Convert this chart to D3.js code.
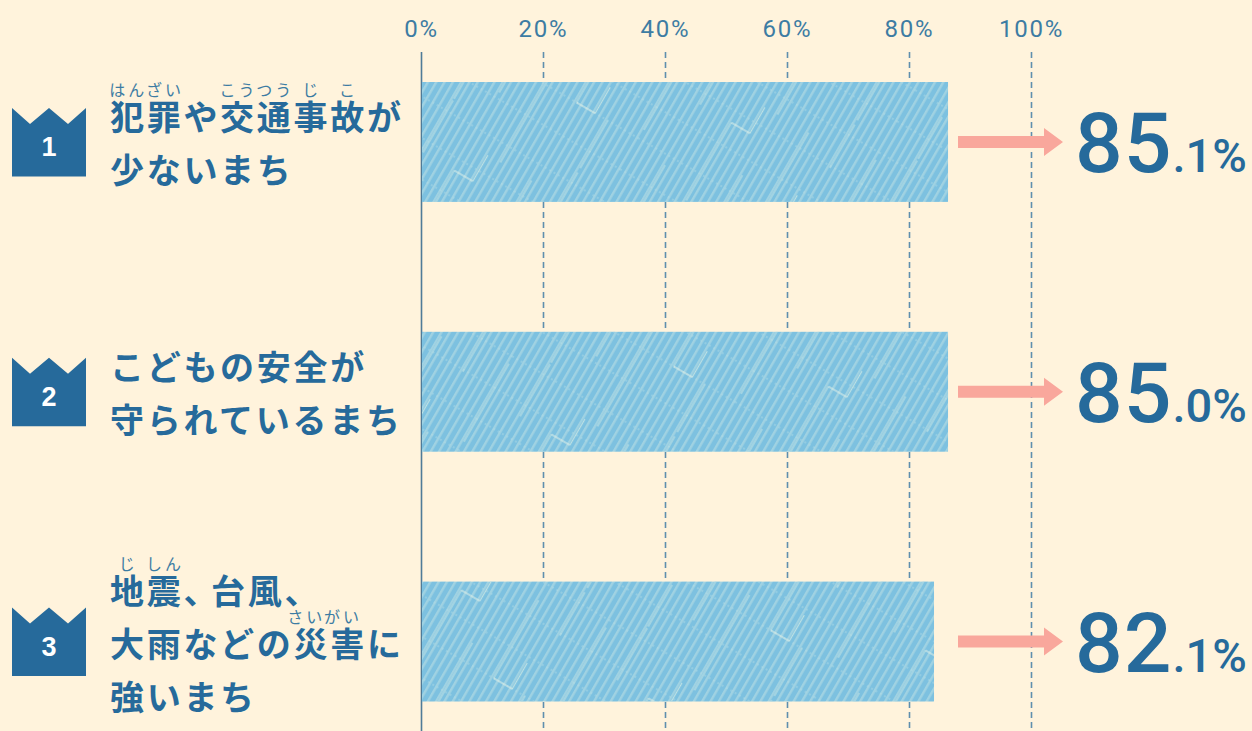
<!DOCTYPE html>
<html>
<head>
<meta charset="utf-8">
<script src="https://cdn.jsdelivr.net/npm/d3@7"></script>
<style>
  html, body { margin: 0; padding: 0; background: #fff3dc; overflow: hidden; }
  svg { display: block; }
  text { font-family: "Noto Sans CJK JP", sans-serif; }
</style>
</head>
<body>
<div id="chart"></div>
<script>
// data
const ranks = ["1", "2", "3"];
const barValues = [86.4, 86.4, 84.1]; // bar ends against the axis
const valueMajor = ["85", "85", "82"];
const valueMinor = [".1%", ".0%", ".1%"];
const axisTicks = [0, 20, 40, 60, 80, 100];
const labelLines = [
  ["犯罪や交通事故が", "少ないまち"],
  ["こどもの安全が", "守られているまち"],
  ["地震、台風、", "大雨などの災害に", "強いまち"]
];
// ruby: line index, char index, reading
const rubyNotes = [
  [[0, 0, "はん"], [0, 1, "ざい"], [0, 3, "こう"], [0, 4, "つう"], [0, 5, "じ"], [0, 6, "こ"]],
  [],
  [[0, 0, "じ"], [0, 1, "しん"], [1, 4.85, "さい"], [1, 5.85, "がい"]]
];

const width = 1252;
const height = 731;
const blue = "#266a9b";
const charW = 36.7;
const lineH = 53;
const textX = 110;

const svg = d3.select("#chart")
  .append("svg")
    .attr("width", width)
    .attr("height", height)
    .attr("viewBox", `0 0 ${width} ${height}`);

svg.append("rect").attr("width", width).attr("height", height).attr("fill", "#fff3dc");

// hatch on the bars
const defs = svg.append("defs");
const fine = defs.append("pattern")
  .attr("id", "fine")
  .attr("patternUnits", "userSpaceOnUse")
  .attr("width", 7.2).attr("height", 7.2)
  .attr("patternTransform", "rotate(30)");
fine.append("rect").attr("width", 7.2).attr("height", 7.2).attr("fill", "#7dc1e0");
fine.append("rect").attr("width", 2.4).attr("height", 7.2).attr("fill", "#a0d2e2");

const coarse = defs.append("pattern")
  .attr("id", "coarse")
  .attr("patternUnits", "userSpaceOnUse")
  .attr("width", 216).attr("height", 180)
  .attr("patternTransform", "translate(421,82) rotate(30)");
// pale dashed lines across the stripes
[12, 48, 84, 120, 156].forEach(function(v) {
  coarse.append("line")
    .attr("x1", 0).attr("x2", 216).attr("y1", v).attr("y2", v)
    .attr("stroke", "#b5dde6").attr("stroke-width", 0.8).attr("stroke-dasharray", "2 3");
});
// brighter stripe segments, staggered
[[1, 20, 110], [37, 130, 178], [37, 0, 60], [73, 60, 150], [109, 0, 30], [109, 100, 180],
 [145, 30, 120], [181, 0, 50], [181, 120, 175]].forEach(function(s) {
  coarse.append("line")
    .attr("x1", s[0]).attr("x2", s[0]).attr("y1", s[1]).attr("y2", s[2])
    .attr("stroke", "#c6e5e4").attr("stroke-width", 1);
});
// the short white jogs between two stripes
[[73, 94.6, 60], [145, 166.6, 120]].forEach(function(s) {
  coarse.append("line")
    .attr("x1", s[0]).attr("x2", s[1]).attr("y1", s[2]).attr("y2", s[2])
    .attr("stroke", "#e4f2e8").attr("stroke-width", 1);
  coarse.append("line")
    .attr("x1", s[1]).attr("x2", s[1]).attr("y1", s[2] - 30).attr("y2", s[2])
    .attr("stroke", "#c6e5e4").attr("stroke-width", 1);
});

const x = d3.scaleLinear().domain([0, 100]).range([421, 1031]);
const y = d3.scaleBand().domain(ranks).range([82, 701.5]).paddingInner(0.52);

// axis and grid
const axis = svg.append("g")
  .attr("transform", "translate(0,52)")
  .call(d3.axisTop(x)
    .tickValues(axisTicks)
    .tickFormat(d => d + "%")
    .tickSize(-(height - 52))
    .tickPadding(15));
axis.select(".domain").remove();
axis.selectAll(".tick line")
  .attr("stroke", d => d === 0 ? "#4f7b98" : "#5f8fae")
  .attr("stroke-width", 1.6)
  .attr("stroke-dasharray", d => d === 0 ? null : "6 4");
axis.selectAll(".tick text")
  .attr("fill", "#3d7ca3")
  .style("font-family", "Roboto, sans-serif")
  .style("font-size", "24px")
  .style("letter-spacing", "1.8px");

// bars
const bars = svg.append("g").selectAll("g")
  .data(barValues)
  .join("g");
bars.append("rect")
  .attr("x", x(0) + 1)
  .attr("y", (d, i) => y(ranks[i]))
  .attr("width", d => x(d) - x(0) - 1)
  .attr("height", y.bandwidth())
  .attr("fill", "url(#fine)");
bars.append("rect")
  .attr("x", x(0) + 1)
  .attr("y", (d, i) => y(ranks[i]))
  .attr("width", d => x(d) - x(0) - 1)
  .attr("height", y.bandwidth())
  .attr("fill", "url(#coarse)");

// one row per rank: crown, label, arrow, value
ranks.forEach(function(rank, i) {
  const cy = y(rank) + y.bandwidth() / 2;
  const row = svg.append("g").attr("transform", `translate(0,${cy})`);

  row.append("path")
    .attr("d", "M12,-34 L30,-18 L49,-34 L68,-18 L86,-34 L86,34.5 L12,34.5 Z")
    .attr("fill", blue);
  row.append("text")
    .attr("x", 49).attr("y", 14)
    .attr("text-anchor", "middle")
    .attr("fill", "#fff")
    .style("font-family", "'Liberation Sans', sans-serif")
    .style("font-size", "27px")
    .style("font-weight", 700)
    .text(rank);

  const lines = labelLines[i];
  const firstBase = cy - (lines.length - 1) * lineH / 2 + 15;
  lines.forEach(function(line, j) {
    const label = svg.append("text")
      .attr("x", textX)
      .attr("y", firstBase + j * lineH)
      .attr("fill", blue)
      .style("font-size", "34px")
      .style("font-weight", 700)
      .style("letter-spacing", (charW - 34) + "px");
    // the reference closes up the space after 、
    line.split(/(?<=、)/).forEach(function(part, k) {
      label.append("tspan").attr("dx", k ? -9 : 0).text(part);
    });
  });
  rubyNotes[i].forEach(function(r) {
    svg.append("text")
      .attr("x", textX + (r[1] + 0.5) * charW)
      .attr("y", firstBase + r[0] * lineH - 34)
      .attr("text-anchor", "middle")
      .attr("fill", "#3d7ca3")
      .style("font-size", "16px")
      .style("letter-spacing", "3px")
      .text(r[2]);
  });

  row.append("path")
    .attr("d", "M958,-6 L1044,-6 L1044,-14 L1063,0 L1044,14 L1044,6 L958,6 Z")
    .attr("fill", "#f9a79c");

  const value = row.append("text")
    .attr("x", 1161).attr("y", 30)
    .attr("text-anchor", "middle")
    .attr("fill", blue)
    .style("font-family", "Roboto, sans-serif");
  value.append("tspan")
    .style("font-size", "84px")
    .style("font-weight", 500)
    .style("letter-spacing", "1px")
    .text(valueMajor[i]);
  value.append("tspan")
    .style("font-size", "47px")
    .style("font-weight", 500)
    .text(valueMinor[i]);
});
</script>
</body>
</html>
